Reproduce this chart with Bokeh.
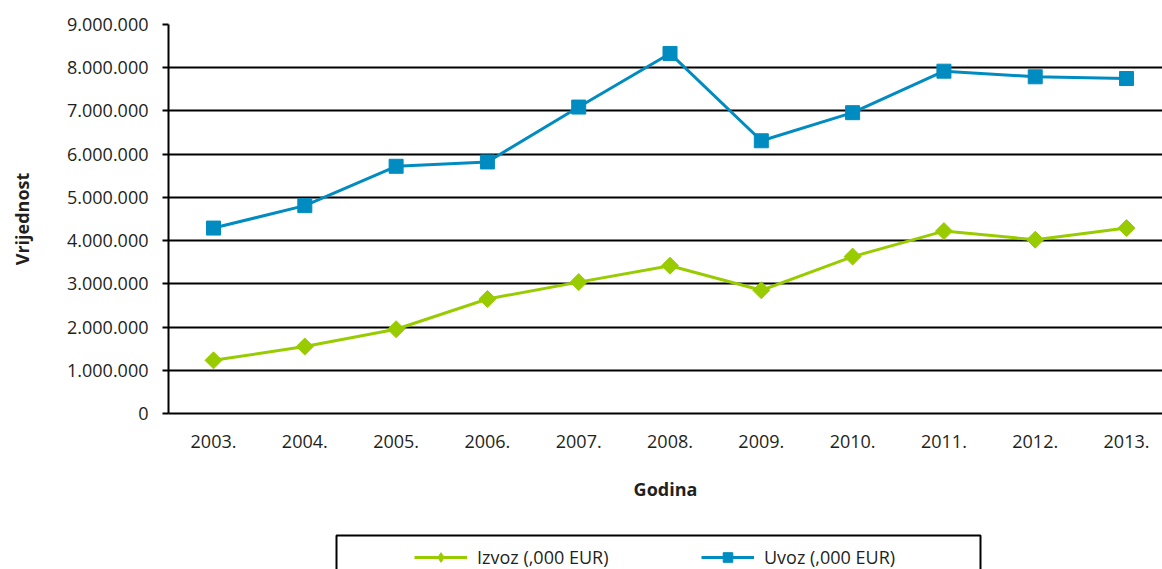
import math
from bokeh.plotting import figure
from bokeh.layouts import column
from bokeh.models import FixedTicker, Legend, LegendItem, BoxAnnotation, Range1d
from bokeh.embed import file_html
from bokeh.resources import INLINE

years = ["2003.", "2004.", "2005.", "2006.", "2007.", "2008.", "2009.", "2010.", "2011.", "2012.", "2013."]
izvoz = [1230000, 1550000, 1950000, 2650000, 3040000, 3420000, 2850000, 3630000, 4220000, 4020000, 4290000]
uvoz = [4290000, 4810000, 5720000, 5820000, 7090000, 8330000, 6310000, 6960000, 7920000, 7790000, 7750000]
y_ticks = [0, 1000000, 2000000, 3000000, 4000000, 5000000, 6000000, 7000000, 8000000, 9000000]
y_tick_labels = ["0", "1.000.000", "2.000.000", "3.000.000", "4.000.000", "5.000.000",
                 "6.000.000", "7.000.000", "8.000.000", "9.000.000"]
series_names = ["Izvoz (,000 EUR)", "Uvoz (,000 EUR)"]
x_title = "Godina"
y_title = "Vrijednost"

GREEN = "#99cc00"
BLUE = "#008cc1"
FONT = "Open Sans"
TXT = "#231f20"

x_idx = list(range(len(years)))

W = 1162
H1 = 520
H2 = 49
LEFT = 168

p = figure(width=W, height=H1, output_backend="svg", toolbar_location=None,
           x_range=Range1d(-0.493, 10.394), y_range=Range1d(0, 9000000),
           min_border_left=LEFT, min_border_right=0, min_border_top=24, min_border_bottom=107)
p.outline_line_color = None
p.background_fill_color = "white"
p.border_fill_color = "white"

# grid
p.xgrid.visible = False
p.ygrid.ticker = FixedTicker(ticks=y_ticks)
p.ygrid.grid_line_color = "black"
p.ygrid.grid_line_width = 2

# axes
p.yaxis.ticker = FixedTicker(ticks=y_ticks)
p.yaxis.major_label_overrides = {t: l for t, l in zip(y_ticks, y_tick_labels)}
p.xaxis.ticker = FixedTicker(ticks=x_idx)
p.xaxis.major_label_overrides = {i: y for i, y in zip(x_idx, years)}
for ax in (p.xaxis[0], p.yaxis[0]):
    ax.axis_line_color = "black"
    ax.axis_line_width = 2
    ax.major_tick_line_color = "black"
    ax.major_tick_line_width = 2
    ax.major_tick_in = 0
    ax.minor_tick_line_color = None
    ax.major_label_text_font = FONT
    ax.major_label_text_font_size = "18px"
    ax.major_label_text_color = TXT
    ax.axis_label_text_font = FONT
    ax.axis_label_text_font_size = "18px"
    ax.axis_label_text_font_style = "bold"
    ax.axis_label_text_color = TXT
p.xaxis.major_tick_out = 0
p.yaxis.major_tick_out = 6
p.yaxis.major_label_standoff = 14
p.xaxis.major_label_standoff = 21
p.xaxis.axis_label = x_title
p.yaxis.axis_label = y_title
p.xaxis.axis_label_standoff = 26
p.yaxis.axis_label_standoff = 30

# series
gl = p.line(x_idx, izvoz, line_color=GREEN, line_width=3)
gs = p.scatter(x_idx, izvoz, marker="square", angle=math.pi / 4, size=12,
               fill_color=GREEN, line_color=GREEN)
bl = p.line(x_idx, uvoz, line_color=BLUE, line_width=3)
bs = p.scatter(x_idx, uvoz, marker="square", size=14, fill_color=BLUE, line_color=BLUE)

# legend strip (separate figure so nothing is clipped); its frame is aligned
# with the main frame, so its x range is given in page pixels
p2 = figure(width=W, height=H2, output_backend="svg", toolbar_location=None,
            x_range=Range1d(LEFT, W), y_range=Range1d(0, H2),
            x_axis_type=None, y_axis_type=None, min_border=0,
            min_border_left=LEFT, min_border_right=0)
p2.outline_line_color = None
p2.grid.visible = False
p2.background_fill_color = "white"
p2.border_fill_color = "white"

box = BoxAnnotation(left=336, right=980, top=H2 - 15, bottom=-40,
                    fill_alpha=0, line_color="black", line_alpha=1, line_width=2)
p2.add_layout(box)

nan = [float("nan")]
lgl = p2.line(nan, nan, line_color=GREEN, line_width=3)
lgs = p2.scatter(nan, nan, marker="diamond", size=10,
                 fill_color=GREEN, line_color=GREEN)
lbl = p2.line(nan, nan, line_color=BLUE, line_width=3)
lbs = p2.scatter(nan, nan, marker="square", size=10, fill_color=BLUE, line_color=BLUE)

legend = Legend(items=[LegendItem(label=series_names[0], renderers=[lgl, lgs]),
                       LegendItem(label=series_names[1], renderers=[lbl, lbs])],
                orientation="horizontal", location=(414 - LEFT, 0), padding=0, margin=0,
                spacing=74, label_width=150, label_height=24, glyph_width=53, glyph_height=24,
                label_standoff=10, label_text_font=FONT, label_text_font_size="18px",
                label_text_color=TXT, border_line_alpha=0, background_fill_alpha=0)
p2.add_layout(legend)

layout = column(p, p2, spacing=0)
open("out.html", "w").write(file_html(layout, INLINE))
